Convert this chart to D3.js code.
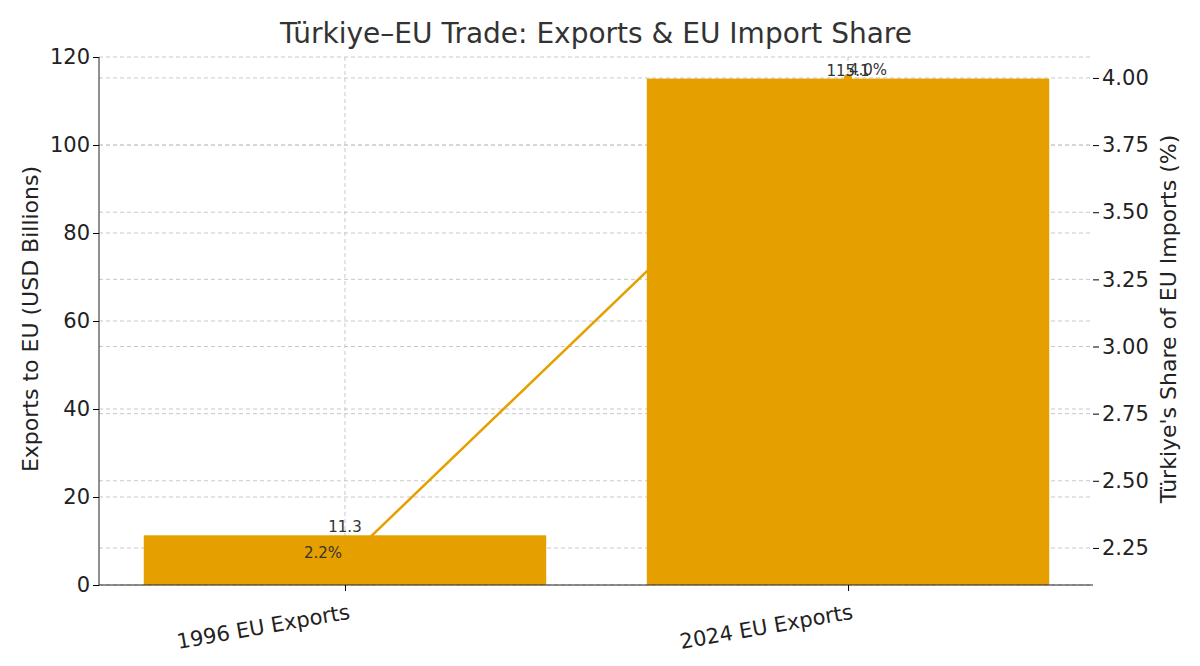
<!DOCTYPE html>
<html><head><meta charset="utf-8">
<script src="https://cdn.jsdelivr.net/npm/d3@7"></script>
<style>body{margin:0;background:#fff}text{font-family:"DejaVu Sans",sans-serif}</style>
</head><body><svg id="c" width="1200" height="666"></svg>
<script>
const categories = ["1996 EU Exports", "2024 EU Exports"];
const exportsUsd = [11.3, 115.1];
const importShare = [2.2, 4.0];
const leftTicks = [0, 20, 40, 60, 80, 100, 120];
const rightTicks = [2.25, 2.5, 2.75, 3.0, 3.25, 3.5, 3.75, 4.0];

const svg = d3.select("#c");
const L = 99, R = 1093, T = 57, B = 585;
const color = "#e5a000";
const x = d3.scaleLinear().domain([-0.489, 1.487]).range([L, R]);
const y = d3.scaleLinear().domain([0, 120]).range([B, T]);
const y2 = d3.scaleLinear().domain([2.112, 4.078]).range([B, T]);

const grid = svg.append("g").attr("stroke", "#c8c8c8").attr("stroke-dasharray", "4,3");
leftTicks.forEach(t => grid.append("line").attr("x1", L).attr("x2", R).attr("y1", y(t)).attr("y2", y(t)));
rightTicks.forEach(t => grid.append("line").attr("x1", L).attr("x2", R).attr("y1", y2(t)).attr("y2", y2(t)));
categories.forEach((c, i) => grid.append("line").attr("x1", x(i)).attr("x2", x(i)).attr("y1", T).attr("y2", B));

// line drawn first, bars cover it
svg.append("path")
  .attr("d", d3.line().x((d, i) => x(i)).y(d => y2(d))(importShare))
  .attr("fill", "none").attr("stroke", color).attr("stroke-width", 2.5);

svg.selectAll("rect.bar").data(exportsUsd).join("rect")
  .attr("x", (d, i) => x(i - 0.4)).attr("width", x(0.4) - x(-0.4))
  .attr("y", d => y(d)).attr("height", d => B - y(d)).attr("fill", color);

svg.selectAll("circle.pt").data(importShare).join("circle")
  .attr("cx", (d, i) => x(i)).attr("cy", d => y2(d)).attr("r", 4).attr("fill", color);

svg.selectAll("text.bl").data(exportsUsd).join("text")
  .attr("x", (d, i) => x(i)).attr("y", d => y(d) - 3).attr("text-anchor", "middle")
  .attr("font-size", 15).attr("fill", "#333").text(d => d.toFixed(1));
svg.selectAll("text.pl").data(importShare).join("text")
  .attr("x", (d, i) => x(i) + (i ? 20 : -22)).attr("y", d => y2(d) - 3).attr("text-anchor", "middle")
  .attr("font-size", 15).attr("fill", "#333").text(d => d.toFixed(1) + "%");

const la = svg.append("g").attr("transform", `translate(${L},0)`)
  .call(d3.axisLeft(y).tickValues(leftTicks).tickSize(6));
const ra = svg.append("g").attr("transform", `translate(${R},0)`)
  .call(d3.axisRight(y2).tickValues(rightTicks).tickSize(6).tickFormat(d3.format(".2f")));
[la, ra].forEach(a => { a.selectAll("text").attr("font-size", 21).attr("fill", "#222"); a.select(".domain").remove(); });
svg.append("line").attr("x1", L).attr("x2", L).attr("y1", T).attr("y2", B).attr("stroke", "#222");
svg.append("line").attr("x1", L).attr("x2", R).attr("y1", B).attr("y2", B).attr("stroke", "#222");

const xa = svg.append("g").attr("transform", `translate(0,${B})`)
  .call(d3.axisBottom(x).tickValues([0, 1]).tickSize(6).tickFormat(i => categories[i]));
xa.select(".domain").remove();
xa.selectAll("text").attr("font-size", 21).attr("fill", "#222").attr("text-anchor", "end")
  .attr("transform", "translate(0,4) rotate(-10)").attr("dx", "0").attr("dy", "1em");

svg.append("text").attr("x", 596).attr("y", 43).attr("text-anchor", "middle")
  .attr("font-size", 28).attr("fill", "#333").text("Türkiye–EU Trade: Exports & EU Import Share");
svg.append("text").attr("transform", `translate(38,${(T + B) / 2 - 2}) rotate(-90)`).attr("text-anchor", "middle")
  .attr("font-size", 22).attr("fill", "#222").text("Exports to EU (USD Billions)");
svg.append("text").attr("transform", `translate(1176,${(T + B) / 2 - 2}) rotate(-90)`).attr("text-anchor", "middle")
  .attr("font-size", 22).attr("fill", "#222").text("Türkiye's Share of EU Imports (%)");
</script></body></html>
